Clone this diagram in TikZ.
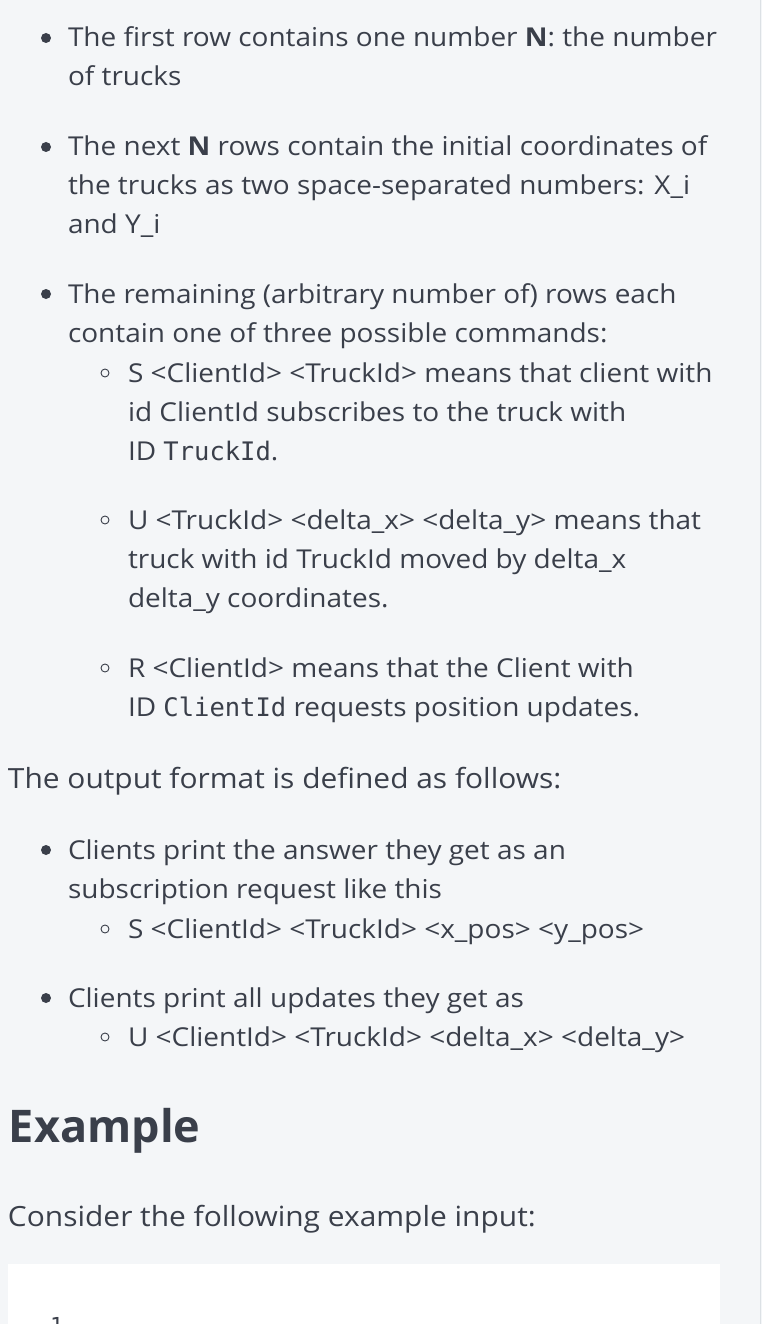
\documentclass[tikz,border=0pt]{standalone}
\usepackage{fontspec}
\setmainfont{Open Sans}
\newfontfamily\bodyf{Open Sans}[FakeStretch=1.076]
\newfontfamily\monof{DejaVu Sans Mono}
\definecolor{txt}{HTML}{3A3F4A}
\definecolor{bg}{HTML}{F4F6F8}
\definecolor{edge}{HTML}{DCE1E5}
\begin{document}
\begin{tikzpicture}[x=1pt,y=-1pt,
  line/.style={anchor=base west,inner sep=0pt,outer sep=0pt,text=txt,font=\bodyf\fontsize{26}{39}\selectfont},
  para/.style={anchor=base west,inner sep=0pt,outer sep=0pt,text=txt,font=\bodyf\fontsize{27.8}{42}\selectfont},
  head/.style={anchor=base west,inner sep=0pt,outer sep=0pt,text=txt,font=\fontsize{45}{54}\selectfont\bfseries},
  disc/.style={circle,fill=txt,inner sep=0pt,minimum size=10pt},
  ring/.style={circle,draw=txt,line width=0.9pt,inner sep=0pt,minimum size=8pt},
  codebox/.style={fill=white,draw=none,anchor=north west,inner sep=0pt,minimum width=712pt,minimum height=80pt}]
\useasboundingbox (0,0) rectangle (762,1324);
\clip (0,0) rectangle (762,1324);
\fill[bg] (0,0) rectangle (762,1324);
\draw[edge,line width=1.5pt] (760.5,0) -- (760.5,1324);

% first list
\node[disc] (b1) at (46,38) {};
\node[line] (t1) at (68,47) {The first row contains one number \textbf{N}: the number};
\node[line] (t2) at (68,86) {of trucks};

\node[disc] (b2) at (46,147) {};
\node[line] (t3) at (68,156) {The next \textbf{N} rows contain the initial coordinates of};
\node[line] (t4) at (68,195) {the trucks as two space-separated numbers: X\_i};
\node[line] (t5) at (68,234) {and Y\_i};

\node[disc] (b3) at (46,294) {};
\node[line] (t6) at (68,303) {The remaining (arbitrary number of) rows each};
\node[line] (t7) at (68,342) {contain one of three possible commands:};

\node[ring] (r1) at (105,373) {};
\node[line] (t8) at (128,382) {S <ClientId> <TruckId> means that client with};
\node[line] (t9) at (128,421) {id ClientId subscribes to the truck with};
\node[line] (t10) at (128,460) {ID {\monof\fontsize{25.5}{39}\selectfont TruckId}.};

\node[ring] (r2) at (105,520) {};
\node[line] (t11) at (128,529) {U <TruckId> <delta\_x> <delta\_y> means that};
\node[line] (t12) at (128,568) {truck with id TruckId moved by delta\_x};
\node[line] (t13) at (128,607) {delta\_y coordinates.};

\node[ring] (r3) at (105,668) {};
\node[line] (t14) at (128,677) {R <ClientId> means that the Client with};
\node[line] (t15) at (128,716) {ID {\monof\fontsize{25.5}{39}\selectfont ClientId} requests position updates.};

% output format
\node[para] (t16) at (8,788) {The output format is defined as follows:};

\node[disc] (b4) at (46,850) {};
\node[line] (t17) at (68,859) {Clients print the answer they get as an};
\node[line] (t18) at (68,898) {subscription request like this};
\node[ring] (r4) at (105,929) {};
\node[line] (t19) at (128,938) {S <ClientId> <TruckId> <x\_pos> <y\_pos>};

\node[disc] (b5) at (46,998) {};
\node[line] (t20) at (68,1007) {Clients print all updates they get as};
\node[ring] (r5) at (105,1037) {};
\node[line] (t21) at (128,1046) {U <ClientId> <TruckId> <delta\_x> <delta\_y>};

% example
\node[head] (h1) at (9,1142) {Example};
\node[para] (t22) at (8,1226) {Consider the following example input:};

\node[codebox] (box) at (8,1264) {};
\node[anchor=base west,inner sep=0pt,text=txt,font=\monof\fontsize{22}{26}\selectfont] (c1) at (50,1333) {1};
\end{tikzpicture}
\end{document}
